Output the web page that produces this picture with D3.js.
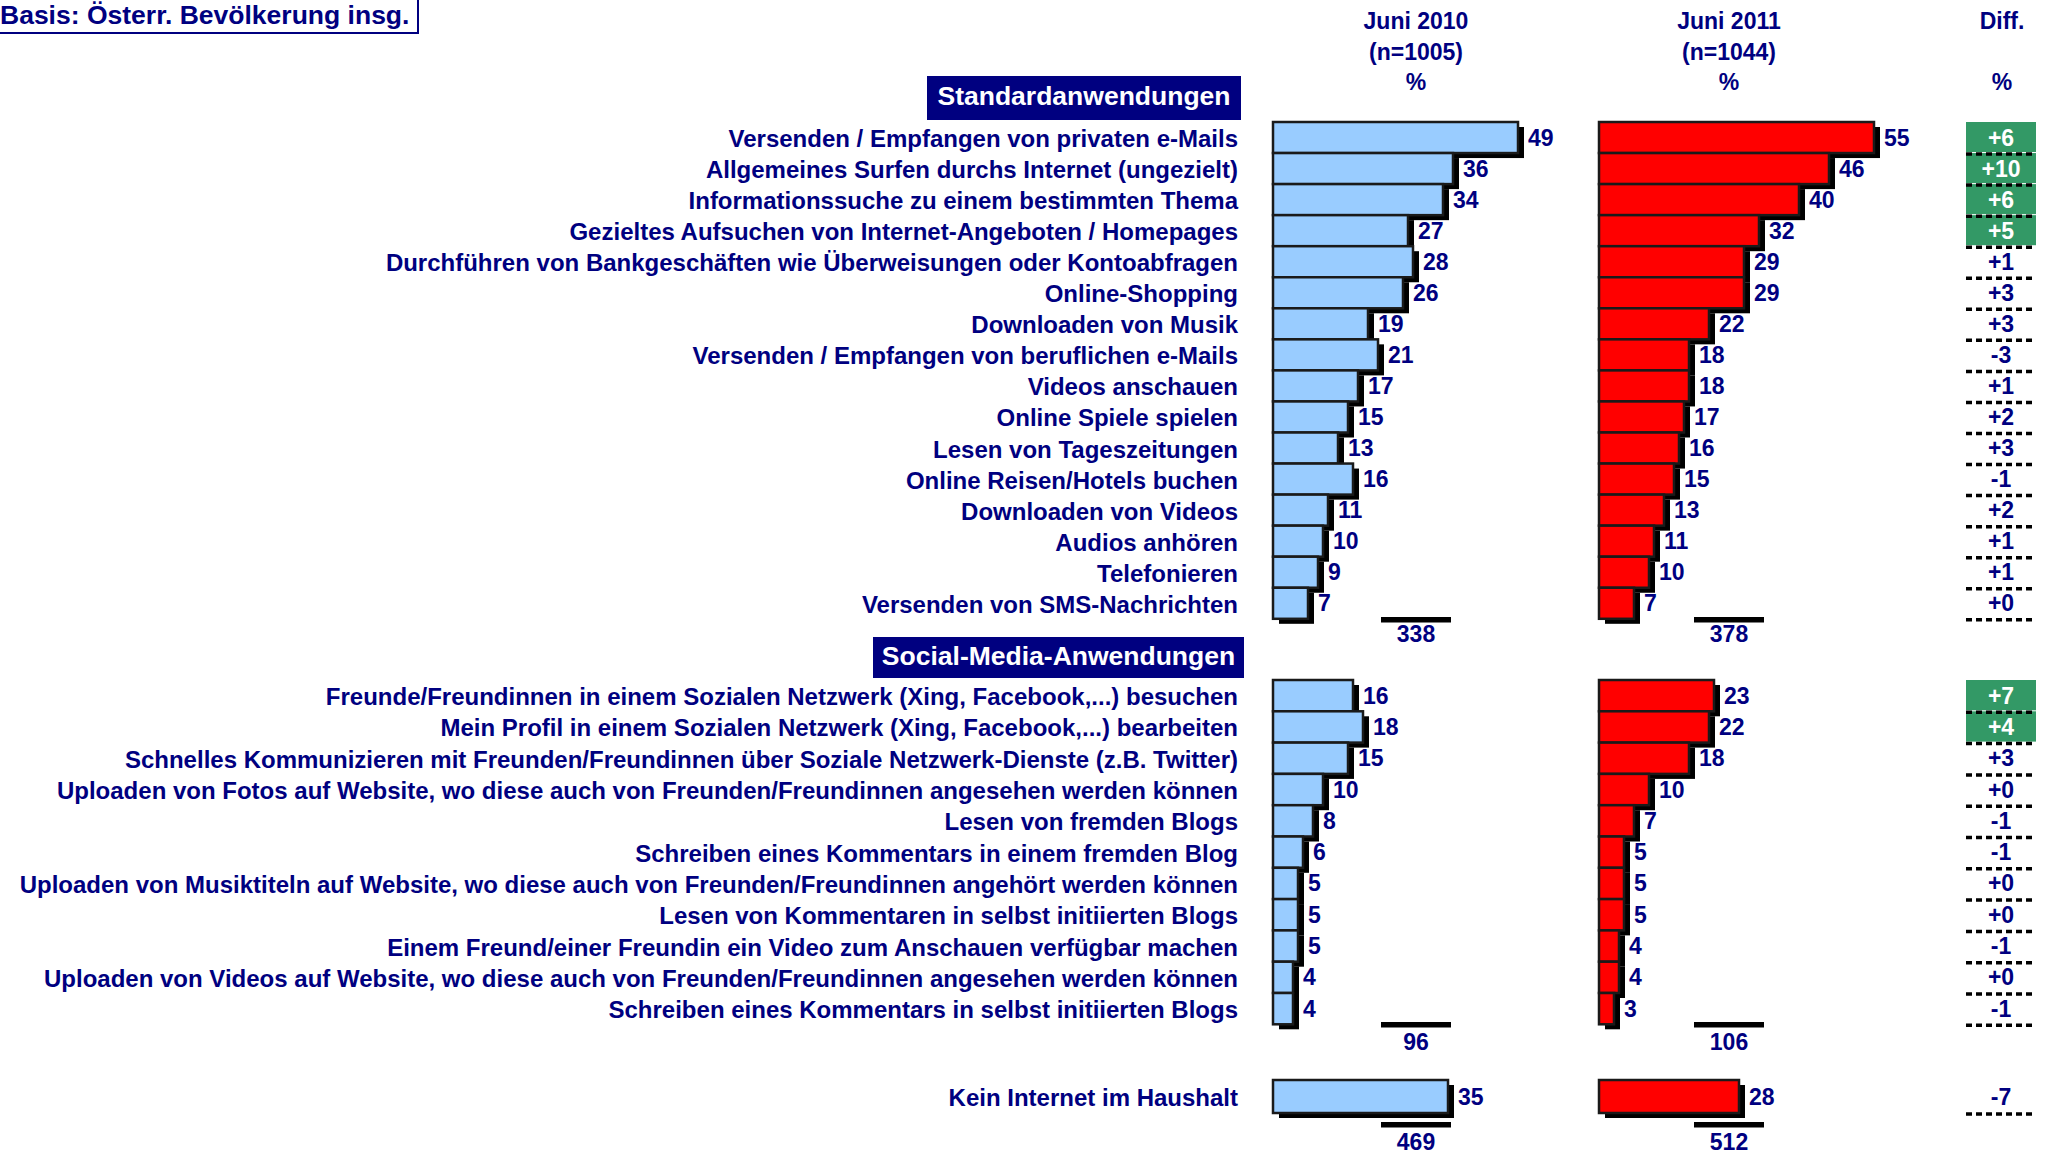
<!DOCTYPE html>
<html>
<head>
<meta charset="utf-8">
<script src="https://cdn.jsdelivr.net/npm/d3@7"></script>
<style>
html,body{margin:0;padding:0;background:#fff;}
svg{display:block;font-family:"Liberation Sans",Arial,sans-serif;font-weight:bold;}
</style>
</head>
<body>
<svg id="chart" width="2049" height="1157"></svg>
<script>
// ---------- DATA ----------
const stdLabels = [
  "Versenden / Empfangen von privaten e-Mails",
  "Allgemeines Surfen durchs Internet (ungezielt)",
  "Informationssuche zu einem bestimmten Thema",
  "Gezieltes Aufsuchen von Internet-Angeboten / Homepages",
  "Durchführen von Bankgeschäften wie Überweisungen oder Kontoabfragen",
  "Online-Shopping",
  "Downloaden von Musik",
  "Versenden / Empfangen von beruflichen e-Mails",
  "Videos anschauen",
  "Online Spiele spielen",
  "Lesen von Tageszeitungen",
  "Online Reisen/Hotels buchen",
  "Downloaden von Videos",
  "Audios anhören",
  "Telefonieren",
  "Versenden von SMS-Nachrichten"
];
const std2010 = [49, 36, 34, 27, 28, 26, 19, 21, 17, 15, 13, 16, 11, 10, 9, 7];
const std2011 = [55, 46, 40, 32, 29, 29, 22, 18, 18, 17, 16, 15, 13, 11, 10, 7];
const stdDiff = [6, 10, 6, 5, 1, 3, 3, -3, 1, 2, 3, -1, 2, 1, 1, 0];
const stdSig  = [1, 1, 1, 1, 0, 0, 0, 0, 0, 0, 0, 0, 0, 0, 0, 0];
const stdSums = [338, 378];

const socLabels = [
  "Freunde/Freundinnen in einem Sozialen Netzwerk (Xing, Facebook,...) besuchen",
  "Mein Profil in einem Sozialen Netzwerk (Xing, Facebook,...) bearbeiten",
  "Schnelles Kommunizieren mit Freunden/Freundinnen über Soziale Netzwerk-Dienste (z.B. Twitter)",
  "Uploaden von Fotos auf Website, wo diese auch von Freunden/Freundinnen angesehen werden können",
  "Lesen von fremden Blogs",
  "Schreiben eines Kommentars in einem fremden Blog",
  "Uploaden von Musiktiteln auf Website, wo diese auch von Freunden/Freundinnen angehört werden können",
  "Lesen von Kommentaren in selbst initiierten Blogs",
  "Einem Freund/einer Freundin ein Video zum Anschauen verfügbar machen",
  "Uploaden von Videos auf Website, wo diese auch von Freunden/Freundinnen angesehen werden können",
  "Schreiben eines Kommentars in selbst initiierten Blogs"
];
const soc2010 = [16, 18, 15, 10, 8, 6, 5, 5, 5, 4, 4];
const soc2011 = [23, 22, 18, 10, 7, 5, 5, 5, 4, 4, 3];
const socDiff = [7, 4, 3, 0, -1, -1, 0, 0, -1, 0, -1];
const socSig  = [1, 1, 0, 0, 0, 0, 0, 0, 0, 0, 0];
const socSums = [96, 106];

const keinLabels = ["Kein Internet im Haushalt"];
const kein2010 = [35];
const kein2011 = [28];
const keinDiff = [-7];
const keinSig  = [0];
const keinSums = [469, 512];

const colHeaders = [
  ["Juni 2010", "(n=1005)", "%"],
  ["Juni 2011", "(n=1044)", "%"],
  ["Diff.", "", "%"]
];
const sectionTitles = ["Standardanwendungen", "Social-Media-Anwendungen"];
const basisText = "Basis: Österr. Bevölkerung insg.";

// ---------- LAYOUT ----------
const NAVY = "#000080";
const svg = d3.select("#chart");
const x = d3.scaleLinear().domain([0, 60]).range([0, 300]);

const cols = [
  {left: 1273, fill: "#99CCFF", sumCx: 1416, hx: 1416},
  {left: 1599, fill: "#FF0000", sumCx: 1729, hx: 1729}
];
const diffX0 = 1966, diffX1 = 2036, diffCx = 2001;
const labelRight = 1238;

const sections = [
  {labels: stdLabels, vals: [std2010, std2011], diff: stdDiff, sig: stdSig, sums: stdSums,
   top: 122, step: 31.05, sumLineY: 617, sumTextY: 642,
   title: sectionTitles[0], box: [927, 1241, 76, 120]},
  {labels: socLabels, vals: [soc2010, soc2011], diff: socDiff, sig: socSig, sums: socSums,
   top: 680, step: 31.3, sumLineY: 1022, sumTextY: 1050,
   title: sectionTitles[1], box: [873, 1244, 637, 678]},
  {labels: keinLabels, vals: [kein2010, kein2011], diff: keinDiff, sig: keinSig, sums: keinSums,
   top: 1080, step: 33, sumLineY: 1122, sumTextY: 1150,
   title: null}
];

// Basis box
svg.append("rect").attr("x", -4).attr("y", -4).attr("width", 422).attr("height", 37)
  .attr("fill", "#fff").attr("stroke", NAVY).attr("stroke-width", 2);
svg.append("text").attr("x", 0).attr("y", 24).attr("font-size", 26.5).attr("fill", NAVY)
  .text(basisText);

// Column headers
const hxs = [cols[0].hx, cols[1].hx, 2002];
const hys = [21, 52, 82];
colHeaders.forEach((lines, i) => {
  lines.forEach((t, j) => {
    if (!t) return;
    svg.append("text").attr("x", hxs[i]).attr("y", hys[j]).attr("text-anchor", "middle")
      .attr("dominant-baseline", "central").attr("font-size", 23).attr("fill", NAVY).text(t);
  });
});

const fmtDiff = d => (d >= 0 ? "+" : "") + d;

sections.forEach(sec => {
  const n = sec.labels.length;
  const y = d3.scaleBand().domain(d3.range(n)).range([sec.top, sec.top + n * sec.step]).padding(0);
  const g = svg.append("g");

  // section title box
  if (sec.title) {
    const [bx0, bx1, by0, by1] = sec.box;
    g.append("rect").attr("x", bx0).attr("y", by0).attr("width", bx1 - bx0).attr("height", by1 - by0)
      .attr("fill", NAVY);
    g.append("text").attr("x", (bx0 + bx1) / 2).attr("y", (by0 + by1) / 2 - 2)
      .attr("text-anchor", "middle").attr("dominant-baseline", "central")
      .attr("font-size", 26.5).attr("fill", "#fff").text(sec.title);
  }

  // row labels
  g.selectAll("text.lab").data(sec.labels).join("text").attr("class", "lab")
    .attr("x", labelRight).attr("y", (d, i) => y(i) + y.bandwidth() / 2 + 1)
    .attr("text-anchor", "end").attr("dominant-baseline", "central")
    .attr("font-size", 24).attr("fill", NAVY).text(d => d);

  // bars for both years
  cols.forEach((c, ci) => {
    const vals = sec.vals[ci];
    const cg = g.append("g");
    cg.selectAll("rect.sh").data(vals).join("rect").attr("class", "sh")
      .attr("x", c.left + 6).attr("y", (d, i) => y(i) + 5)
      .attr("width", d => x(d)).attr("height", y.bandwidth())
      .attr("fill", "#000");
    cg.selectAll("rect.bar").data(vals).join("rect").attr("class", "bar")
      .attr("x", c.left).attr("y", (d, i) => y(i))
      .attr("width", d => x(d)).attr("height", y.bandwidth())
      .attr("fill", c.fill).attr("stroke", "#1a1a1a").attr("stroke-width", 2.5);
    cg.selectAll("text.val").data(vals).join("text").attr("class", "val")
      .attr("x", d => c.left + x(d) + 10).attr("y", (d, i) => y(i) + y.bandwidth() / 2)
      .attr("dominant-baseline", "central").attr("font-size", 23).attr("fill", NAVY)
      .text(d => d);
    // sum line and value
    cg.append("rect").attr("x", c.sumCx - 35).attr("y", sec.sumLineY).attr("width", 70).attr("height", 5.5)
      .attr("fill", "#000");
    cg.append("text").attr("x", c.sumCx).attr("y", sec.sumTextY).attr("text-anchor", "middle")
      .attr("font-size", 23).attr("fill", NAVY).text(sec.sums[ci]);
  });

  // diff column
  const dg = g.append("g");
  dg.selectAll("rect.sig").data(sec.diff.map((d, i) => ({d, i})).filter(o => sec.sig[o.i]))
    .join("rect").attr("class", "sig")
    .attr("x", diffX0).attr("y", o => y(o.i)).attr("width", diffX1 - diffX0)
    .attr("height", y.bandwidth() - 1).attr("fill", "#339966");
  dg.selectAll("line.dash").data(sec.diff).join("line").attr("class", "dash")
    .attr("x1", diffX0).attr("x2", diffX1)
    .attr("y1", (d, i) => y(i) + y.bandwidth() + 1).attr("y2", (d, i) => y(i) + y.bandwidth() + 1)
    .attr("stroke", "#000").attr("stroke-width", 3.5).attr("stroke-dasharray", "6,4");
  dg.selectAll("text.dv").data(sec.diff).join("text").attr("class", "dv")
    .attr("x", diffCx).attr("y", (d, i) => y(i) + y.bandwidth() / 2)
    .attr("text-anchor", "middle").attr("dominant-baseline", "central")
    .attr("font-size", 23).attr("fill", (d, i) => sec.sig[i] ? "#fff" : NAVY)
    .text(d => fmtDiff(d));
});
</script>
</body>
</html>
